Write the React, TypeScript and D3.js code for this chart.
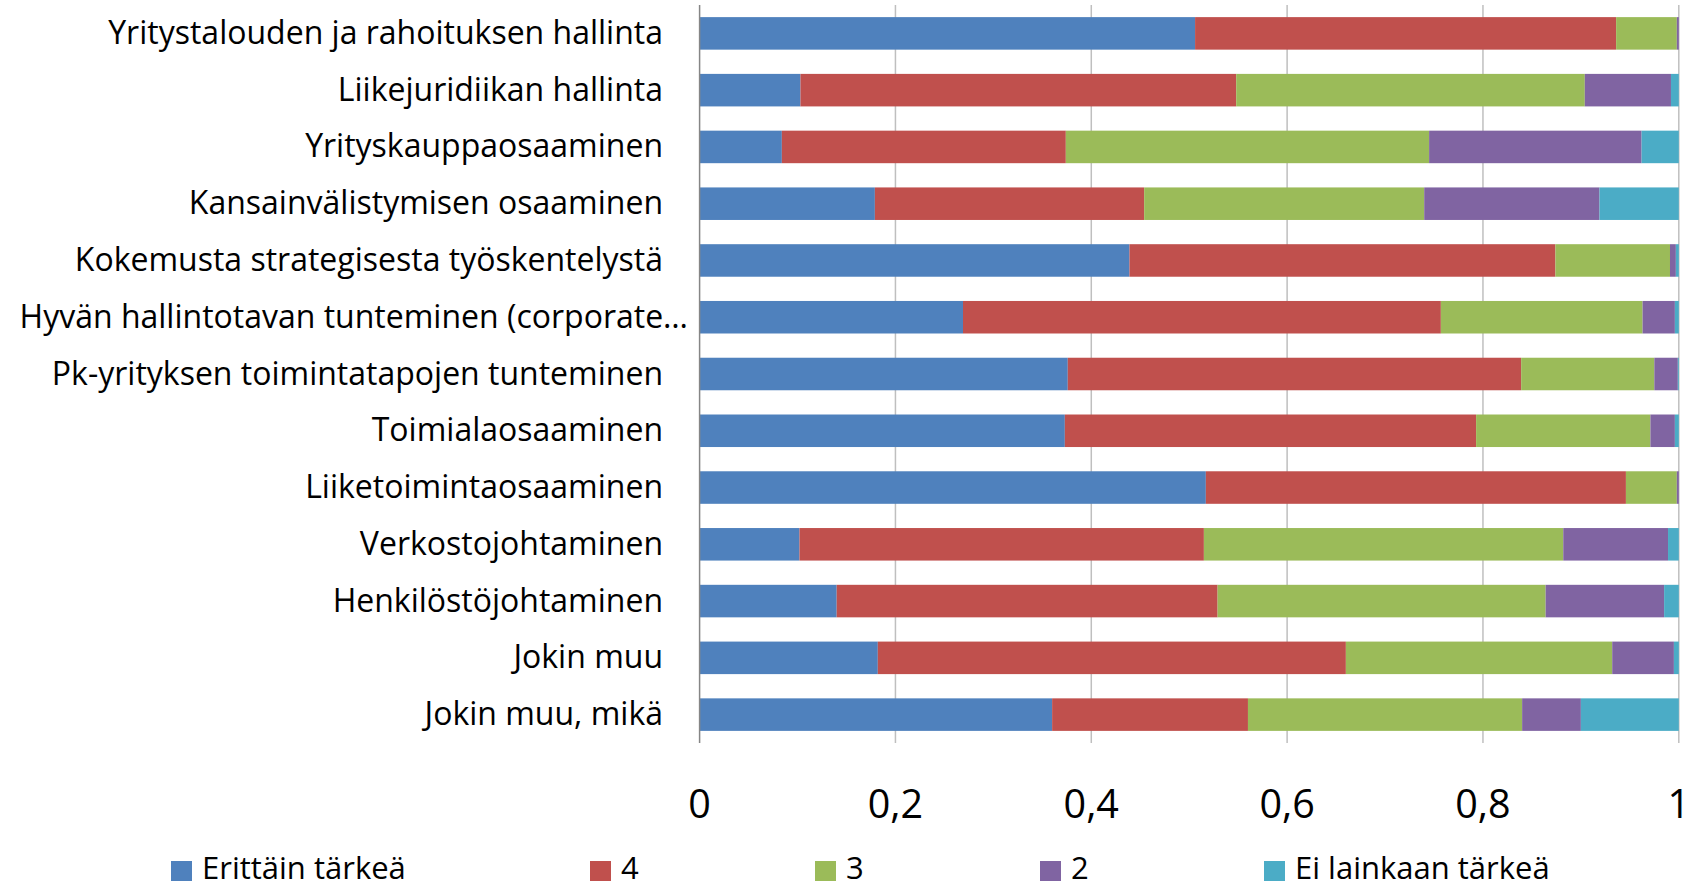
import React from "react";
import * as d3 from "d3";

const categories = [
  "Yritystalouden ja rahoituksen hallinta",
  "Liikejuridiikan hallinta",
  "Yrityskauppaosaaminen",
  "Kansainvälistymisen osaaminen",
  "Kokemusta strategisesta työskentelystä",
  "Hyvän hallintotavan tunteminen (corporate…",
  "Pk-yrityksen toimintatapojen tunteminen",
  "Toimialaosaaminen",
  "Liiketoimintaosaaminen",
  "Verkostojohtaminen",
  "Henkilöstöjohtaminen",
  "Jokin muu",
  "Jokin muu, mikä",
];

const seriesNames = ["Erittäin tärkeä", "4", "3", "2", "Ei lainkaan tärkeä"];

const erittainTarkea = [0.506, 0.103, 0.084, 0.179, 0.439, 0.269, 0.376, 0.373, 0.517, 0.102, 0.14, 0.182, 0.36];
const arvo4 = [0.43, 0.445, 0.29, 0.275, 0.435, 0.488, 0.463, 0.42, 0.429, 0.413, 0.389, 0.478, 0.2];
const arvo3 = [0.062, 0.356, 0.371, 0.286, 0.117, 0.206, 0.136, 0.178, 0.052, 0.367, 0.335, 0.272, 0.28];
const arvo2 = [0.002, 0.088, 0.217, 0.179, 0.006, 0.033, 0.024, 0.025, 0.002, 0.107, 0.121, 0.063, 0.06];
const eiLainkaanTarkea = [0, 0.008, 0.038, 0.081, 0.003, 0.004, 0.001, 0.004, 0, 0.011, 0.015, 0.005, 0.1];

const xTicks = [0, 0.2, 0.4, 0.6, 0.8, 1];

const colors = ["#4F81BD", "#C0504D", "#9BBB59", "#8064A2", "#4BACC6"];

const W = 1705;
const H = 887;
const FONT = "'Open Sans', Lato, sans-serif";

export default function App() {
  const seriesValues = [erittainTarkea, arvo4, arvo3, arvo2, eiLainkaanTarkea];
  const rows = categories.map((c, i) => {
    const r: any = { category: c };
    seriesNames.forEach((s, k) => (r[s] = seriesValues[k][i]));
    return r;
  });
  const stacked = d3.stack().keys(seriesNames)(rows);

  const x = d3.scaleLinear().domain([0, 1]).range([699.6, 1678.8]);
  const y = d3
    .scaleBand<string>()
    .domain(categories)
    .range([5, 743])
    .paddingInner(0.427)
    .paddingOuter(0.2135);

  const legendX = [171, 590, 815, 1040, 1264];
  const fmt = (v: number) => String(v).replace(".", ",");

  return (
    <svg
      width={W}
      height={H}
      style={{ position: "absolute", left: 0, top: 0, background: "#fff" }}
      fontFamily={FONT}
    >
      <rect x={0} y={0} width={W} height={H} fill="#fff" />
      {xTicks.slice(1).map((t) => (
        <line key={t} x1={x(t)} x2={x(t)} y1={5} y2={743} stroke="#BFBFBF" strokeWidth={1.5} />
      ))}
      {stacked.map((s, k) => (
        <g key={s.key} fill={colors[k]}>
          {s.map((d, i) => (
            <rect
              key={i}
              x={x(d[0])}
              width={Math.max(0, x(d[1]) - x(d[0]))}
              y={y(categories[i])}
              height={y.bandwidth()}
            />
          ))}
        </g>
      ))}
      <line x1={x(0)} x2={x(0)} y1={5} y2={743} stroke="#868686" strokeWidth={1.5} />
      {categories.map((c) => {
        const truncated = c.endsWith("…");
        return (
          <text
            key={c}
            x={truncated ? 688 : 663}
            y={(y(c) as number) + y.bandwidth() / 2 + 10.5}
            textAnchor="end"
            fontSize={32}
            fill="#000"
          >
            {c}
          </text>
        );
      })}
      {xTicks.map((t) => (
        <text key={t} x={x(t)} y={818} textAnchor="middle" fontSize={39.5} fill="#000">
          {fmt(t)}
        </text>
      ))}
      {seriesNames.map((s, k) => (
        <g key={s}>
          <rect x={legendX[k]} y={861} width={21} height={20} fill={colors[k]} />
          <text x={legendX[k] + 31} y={879} fontSize={31} fill="#000">
            {s}
          </text>
        </g>
      ))}
    </svg>
  );
}
